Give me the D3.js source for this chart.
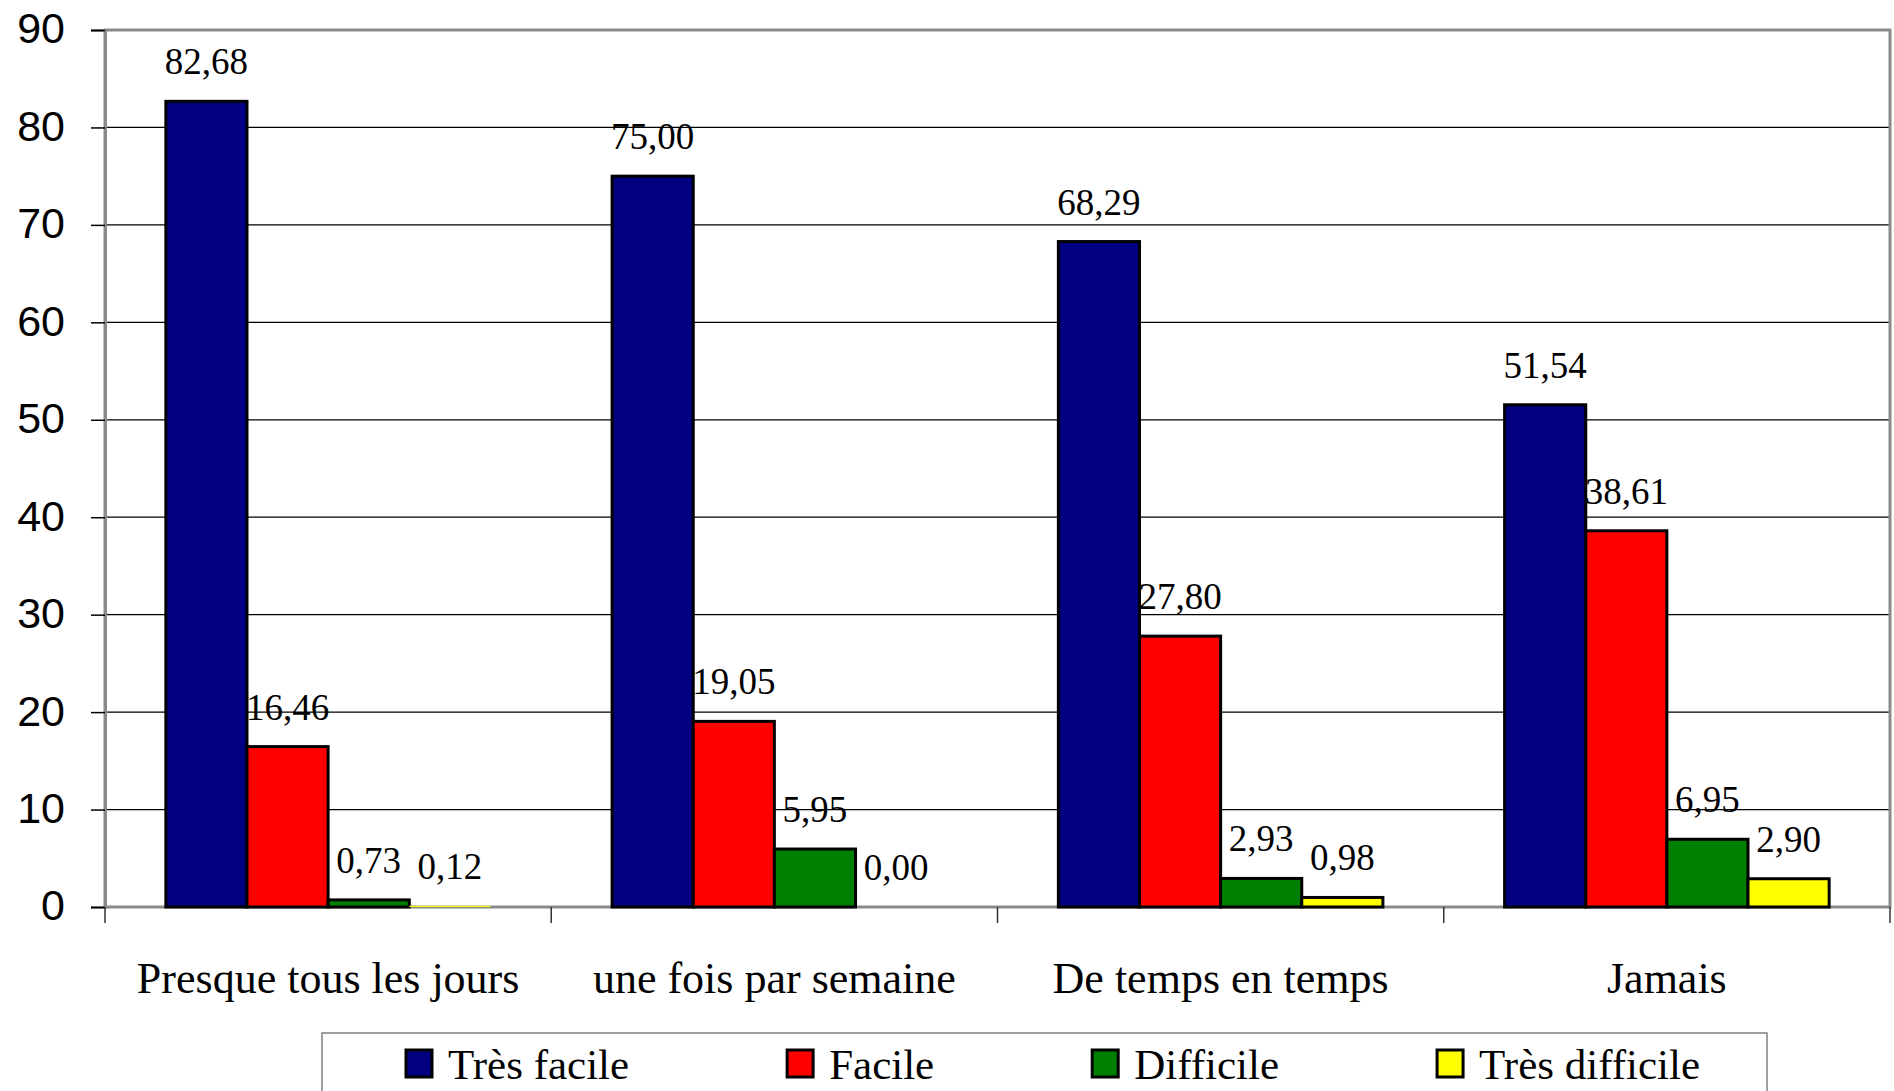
<!DOCTYPE html>
<html lang="fr">
<head>
  <meta charset="UTF-8">
  <title>Bar chart</title>
  <style>
    body { margin: 0; background: #fff; }
    svg { display: block; }
  </style>
</head>
<body>
  <svg id="svg" width="1894" height="1091"></svg>
  <script src="https://d3js.org/d3.v7.min.js"></script>
  <script>
    // data
    const categories = ['Presque tous les jours', 'une fois par semaine', 'De temps en temps', 'Jamais']
    const seriesNames = ['Très facile', 'Facile', 'Difficile', 'Très difficile']
    const tresFacile = [82.68, 75.00, 68.29, 51.54]
    const facile = [16.46, 19.05, 27.80, 38.61]
    const difficile = [0.73, 5.95, 2.93, 6.95]
    const tresDifficile = [0.12, 0.00, 0.98, 2.90]
    const yTicks = [0, 10, 20, 30, 40, 50, 60, 70, 80, 90]
    const colors = ['#000080', '#ff0000', '#008000', '#ffff00']

    const seriesValues = [tresFacile, facile, difficile, tresDifficile]

    const plot = { left: 105, right: 1890, top: 30, bottom: 907 }

    const svg = d3.select('#svg')

    const x0 = d3.scaleBand().domain(categories).range([plot.left, plot.right]).padding(0)
    const x1 = d3.scaleBand().domain(seriesNames).range([0, x0.bandwidth()])
      .paddingInner(0).paddingOuter(0.75)
    const y = d3.scaleLinear().domain([0, 90]).range([plot.bottom, plot.top])
    const color = d3.scaleOrdinal().domain(seriesNames).range(colors)

    const fmt = v => d3.format('.2f')(v).replace('.', ',')

    // gridlines
    svg.append('g')
      .selectAll('line')
      .data(yTicks.filter(d => d > 0 && d < 90))
      .join('line')
      .attr('x1', plot.left).attr('x2', plot.right)
      .attr('y1', d => y(d)).attr('y2', d => y(d))
      .attr('stroke', '#000').attr('stroke-width', 1.3)

    // plot border
    svg.append('rect')
      .attr('x', plot.left).attr('y', plot.top)
      .attr('width', plot.right - plot.left).attr('height', plot.bottom - plot.top)
      .attr('fill', 'none').attr('stroke', '#8a8a8a').attr('stroke-width', 3)

    // y axis
    const yAxis = svg.append('g')
      .attr('transform', `translate(${plot.left},0)`)
      .call(d3.axisLeft(y).tickValues(yTicks).tickSize(14).tickPadding(26).tickFormat(d3.format('d')))
    yAxis.select('.domain').attr('stroke', '#8a8a8a').attr('stroke-width', 3)
    yAxis.selectAll('.tick line').attr('stroke', '#000').attr('stroke-width', 1.5)
    yAxis.selectAll('.tick text')
      .attr('font-family', 'Liberation Sans, Arial, sans-serif')
      .attr('font-size', 43)
      .attr('fill', '#000')
      .attr('dy', '0.3em')

    // x axis tick marks at category boundaries
    const bounds = categories.map(c => x0(c)).concat([plot.right])
    svg.append('g')
      .selectAll('line')
      .data(bounds)
      .join('line')
      .attr('x1', d => d).attr('x2', d => d)
      .attr('y1', plot.bottom).attr('y2', plot.bottom + 16)
      .attr('stroke', '#333').attr('stroke-width', 1.5)

    // bars
    const groups = svg.append('g')
      .selectAll('g')
      .data(categories)
      .join('g')
      .attr('transform', d => `translate(${x0(d)},0)`)

    const cells = groups.selectAll('g')
      .data((c, ci) => seriesNames.map((s, si) => ({ s, v: seriesValues[si][ci] })))
      .join('g')

    cells.append('rect')
      .attr('x', d => x1(d.s))
      .attr('y', d => y(d.v))
      .attr('width', x1.bandwidth())
      .attr('height', d => y(0) - y(d.v))
      .attr('fill', d => color(d.s))
      .attr('stroke', d => d.v > 0.5 ? '#000' : 'none')
      .attr('stroke-width', 3)

    cells.append('text')
      .attr('x', d => x1(d.s) + x1.bandwidth() / 2)
      .attr('y', d => y(d.v) - 27)
      .attr('text-anchor', 'middle')
      .attr('font-family', 'Liberation Serif, Times New Roman, serif')
      .attr('font-size', 37)
      .text(d => fmt(d.v))

    // category labels
    svg.append('g')
      .selectAll('text')
      .data(categories)
      .join('text')
      .attr('x', d => x0(d) + x0.bandwidth() / 2)
      .attr('y', 993)
      .attr('text-anchor', 'middle')
      .attr('font-family', 'Liberation Serif, Times New Roman, serif')
      .attr('font-size', 44)
      .text(d => d)

    // legend
    const legend = svg.append('g')
    legend.append('rect')
      .attr('x', 322).attr('y', 1033)
      .attr('width', 1767 - 322).attr('height', 80)
      .attr('fill', '#fff').attr('stroke', '#808080').attr('stroke-width', 1.5)

    let lx = 406
    seriesNames.forEach(s => {
      const item = legend.append('g').attr('transform', `translate(${lx},0)`)
      item.append('rect')
        .attr('x', 0).attr('y', 1050).attr('width', 26).attr('height', 27)
        .attr('fill', color(s)).attr('stroke', '#000').attr('stroke-width', 3)
      const t = item.append('text')
        .attr('x', 42).attr('y', 1079)
        .attr('font-family', 'Liberation Serif, Times New Roman, serif')
        .attr('font-size', 43)
        .text(s)
      lx += 42 + t.node().getComputedTextLength() + 158
    })
  </script>
</body>
</html>
